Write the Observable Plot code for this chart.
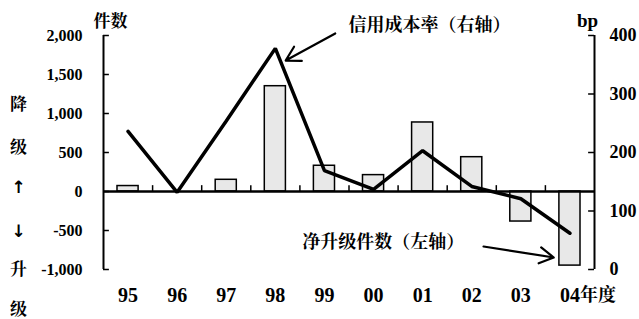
<!DOCTYPE html>
<html><head><meta charset="utf-8">
<script src="https://cdn.jsdelivr.net/npm/d3@7"></script>
<script src="https://cdn.jsdelivr.net/npm/@observablehq/plot@0.6"></script>
<style>body{margin:0;background:#fff}</style>
</head><body><div id="chart"></div>
<script>
const years = ["95","96","97","98","99","00","01","02","03","04"];
const netUpgrades = [70, 0, 150, 1350, 330, 210, 885, 440, -385, -950]; // 左轴 件数
const creditCostBp = [236, 132, 254, 378, 169, 137, 203, 142, 121, 62]; // 右轴 bp
const leftTicks = [-1000, -500, 0, 500, 1000, 1500, 2000];
const rightTicks = [0, 100, 200, 300, 400];
const sideLabels = ["降", "级", "↑", "↓", "升", "级"];
const sideLabelY = [1115, 564, 51, -513, -1000, -1510];

const toLeft = v => -1000 + v * 3000 / 400;
const fromLeft = d => Math.round((d + 1000) * 400 / 3000);
const fmt = d => (d < 0 ? "-" : "") + d3.format(",")(Math.abs(d));
const idx = years.map((d, i) => i);
const isArrow = d => d === "↑" || d === "↓";
const latin = "Liberation Serif";
const cjk = "Noto Serif CJK SC";
const arrowFont = "DejaVu Sans";

const chart = Plot.plot({
  width: 639, height: 319,
  marginTop: 35, marginBottom: 50, marginLeft: 103, marginRight: 45,
  style: {fontFamily: latin, fontWeight: "bold", color: "black", background: "white"},
  x: {type: "linear", domain: [-0.5, 9.5]},
  y: {domain: [-1000, 2000]},
  marks: [
    Plot.rectY(idx.filter(i => netUpgrades[i] !== 0), {
      x1: i => i - 0.215, x2: i => i + 0.215, y1: 0, y2: i => netUpgrades[i],
      fill: "#e8e8e8", stroke: "black", strokeWidth: 1.5
    }),
    Plot.ruleY([0], {x1: -0.5, x2: 9.5, stroke: "black", strokeWidth: 2.5}),
    Plot.ruleX(idx.slice(0, 9), {x: i => i + 0.5, y1: 0, y2: 75, stroke: "black", strokeWidth: 1.5}),
    Plot.ruleX([-0.5, 9.5], {y1: -1000, y2: 2000, stroke: "black", strokeWidth: 2}),
    Plot.ruleY(leftTicks, {x1: -0.5, x2: -0.38, stroke: "black", strokeWidth: 1.5}),
    Plot.ruleY(rightTicks.map(toLeft), {x1: 9.38, x2: 9.5, stroke: "black", strokeWidth: 1.5}),
    Plot.axisY({anchor: "left", ticks: leftTicks, tickFormat: fmt, tickSize: 0, tickPadding: 21, fontSize: 16, fontFamily: latin, label: null}),
    Plot.axisY({anchor: "right", ticks: rightTicks.map(toLeft), tickFormat: fromLeft, tickSize: 0, tickPadding: 15, fontSize: 18, fontFamily: latin, label: null}),
    Plot.axisX({anchor: "bottom", ticks: idx, tickFormat: i => years[i], tickSize: 0, tickPadding: 18, fontSize: 20, fontFamily: latin, label: null}),
    Plot.line(idx, {x: i => i, y: i => toLeft(creditCostBp[i]), stroke: "black", strokeWidth: 3.5, strokeLinejoin: "miter"}),
    Plot.arrow([0], {x1: 4.22, y1: 2026, x2: 3.21, y2: 1679, stroke: "black", strokeWidth: 2.2, headLength: 11}),
    Plot.arrow([0], {x1: 7.24, y1: -705, x2: 8.67, y2: -846, stroke: "black", strokeWidth: 2.2, headLength: 11}),
    Plot.text(["信用成本率（右轴）"], {x: 4.49, y: 2128, textAnchor: "start", fontSize: 18, fontFamily: cjk}),
    Plot.text(["净升级件数（左轴）"], {x: 3.55, y: -654, textAnchor: "start", fontSize: 18, fontFamily: cjk}),
    Plot.text(["件数"], {x: -0.5, y: 2000, dx: 7, dy: -14, fontSize: 17, fontFamily: cjk}),
    Plot.text(["bp"], {x: 9.5, y: 2000, dx: -7, dy: -15, fontSize: 19, fontFamily: latin}),
    Plot.text(["年度"], {x: 9, y: -1000, dx: 10, dy: 26, textAnchor: "start", fontSize: 18, fontFamily: cjk}),
    Plot.text(idx.slice(0, 6).filter(i => !isArrow(sideLabels[i])), {x: -0.5, y: i => sideLabelY[i], text: i => sideLabels[i], dx: -85, fontSize: 17, fontFamily: cjk}),
    Plot.text(idx.slice(0, 6).filter(i => isArrow(sideLabels[i])), {x: -0.5, y: i => sideLabelY[i], text: i => sideLabels[i], dx: -85, fontSize: 17, fontFamily: arrowFont})
  ]
});
document.getElementById("chart").appendChild(chart);
</script>
</body></html>
